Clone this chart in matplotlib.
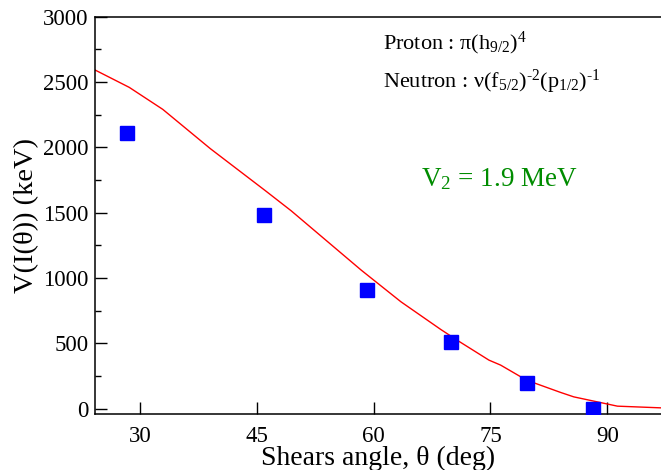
import matplotlib.pyplot as plt

plt.rcParams['font.family'] = ['Liberation Serif', 'DejaVu Serif']
plt.rcParams['mathtext.fontset'] = 'custom'
plt.rcParams['mathtext.rm'] = 'Liberation Serif'
plt.rcParams['mathtext.it'] = 'Liberation Serif'

# experimental points
theta_exp = [28.25, 45.9, 59.1, 69.95, 79.7, 88.2]
v_exp = [2108, 1485, 911, 510, 194, 0]

# calculated curve
theta_calc = [24.2, 28.6, 32.9, 39.0, 46.1, 49.4, 58.4, 63.5, 68.6, 70.7,
              74.8, 76.3, 78.9, 80.6, 84.0, 85.7, 91.3, 96.9]
v_calc = [2591, 2458, 2290, 1990, 1667, 1514, 1060, 818, 607, 525,
          372, 334, 244, 198, 125, 91, 20, 7]

fig = plt.figure(figsize=(6.61, 4.70), dpi=100)
ax = fig.add_axes([95 / 661, 1 - 414 / 470, 1 - 95 / 661, (414 - 16.5) / 470])

ax.plot(theta_calc, v_calc, color='red', lw=1.0, zorder=2)
ax.plot(theta_exp, v_exp, ls='none', marker='s', ms=9.5, color='blue',
        mec='blue', zorder=3)

ax.set_xlim(24.2, 96.9)
ax.set_ylim(-40, 3000)
ax.set_xticks([30, 45, 60, 75, 90])
ax.set_yticks(range(0, 3001, 500))
ax.set_yticks(range(250, 3000, 500), minor=True)

ax.tick_params(direction='in', length=8.5, width=1.0, labelsize=16.5)
ax.tick_params(axis='x', pad=8.5)
ax.tick_params(axis='y', pad=4.5)
ax.tick_params(which='minor', direction='in', length=4.3, width=1.0)
ax.spines['right'].set_visible(False)
for s in ['left', 'bottom', 'top']:
    ax.spines[s].set_linewidth(1.1)

ax.set_xlabel(r'Shears angle, θ (deg)', fontsize=20, va='baseline')
ax.xaxis.set_label_coords(0.5, (414 - 465) / 397.5)
ax.set_ylabel(r'V(I(θ)) (keV)', fontsize=20.5, labelpad=3)

ax.text(383 / 661, 1 - 49 / 470, r'Proton : π(h$_{9/2}$)$^{4}$',
        transform=fig.transFigure, fontsize=16, va='baseline')
ax.text(383 / 661, 1 - 88 / 470,
        r'Neutron : ν(f$_{5/2}$)$^{\text{-2}}$(p$_{1/2}$)$^{\text{-1}}$',
        transform=fig.transFigure, fontsize=16, va='baseline')
ax.text(421 / 661, 1 - 186 / 470, r'V$_{2}$ = 1.9 MeV',
        transform=fig.transFigure, fontsize=19.5, va='baseline', color='#008c00')

fig.savefig('out.png', dpi=100)
